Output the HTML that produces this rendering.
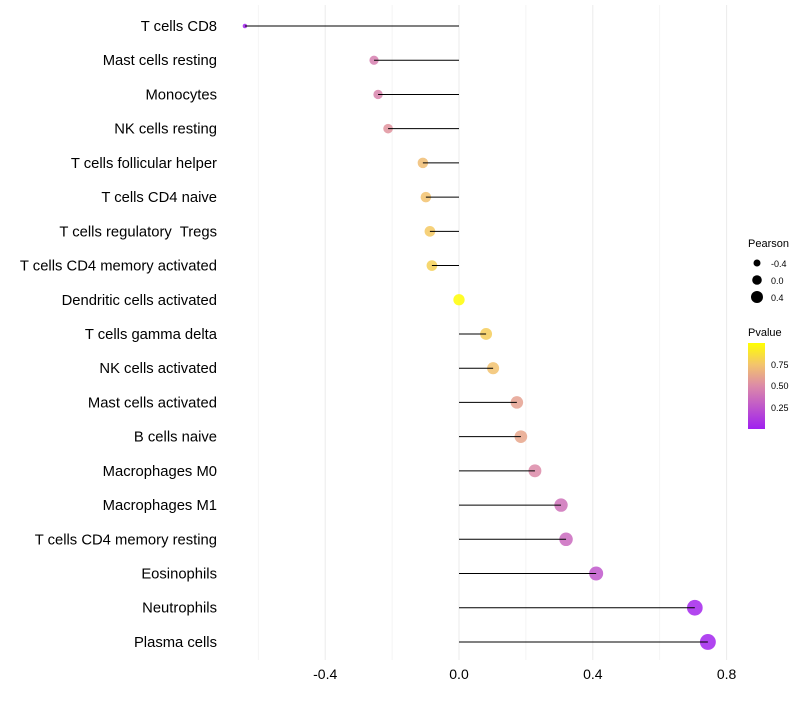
<!DOCTYPE html>
<html><head><meta charset="utf-8"><style>
body{margin:0;background:#fff;font-family:"Liberation Sans",sans-serif}
svg text{font-family:"Liberation Sans",sans-serif;white-space:pre}
</style></head><body>
<svg id="c" width="800" height="700" xmlns="http://www.w3.org/2000/svg">
<defs><linearGradient id="pg" x1="0" y1="1" x2="0" y2="0">
<stop offset="0" stop-color="#a020f0"/><stop offset="0.5" stop-color="#dc8aa8"/><stop offset="0.75" stop-color="#f3c46c"/><stop offset="1" stop-color="#ffff00"/></linearGradient></defs>
<g id="grid"></g><g id="marks"></g><g id="labels"></g>
<g>
<text x="748" y="247" font-size="11">Pearson</text>
<circle cx="757" cy="263" r="3.5" fill="#000"/>
<text x="771" y="267" font-size="9">-0.4</text>
<circle cx="757" cy="280" r="4.8" fill="#000"/>
<text x="771" y="284" font-size="9">0.0</text>
<circle cx="757" cy="297" r="6" fill="#000"/>
<text x="771" y="301" font-size="9">0.4</text>
<text x="748" y="336" font-size="11">Pvalue</text>
<rect x="748" y="343" width="17" height="86" fill="url(#pg)"/>
<text x="771" y="368" font-size="9">0.75</text>
<text x="771" y="389" font-size="9">0.50</text>
<text x="771" y="411" font-size="9">0.25</text>
</g>
</svg>
<script>
const categories=["T cells CD8","Mast cells resting","Monocytes","NK cells resting","T cells follicular helper","T cells CD4 naive","T cells regulatory  Tregs","T cells CD4 memory activated","Dendritic cells activated","T cells gamma delta","NK cells activated","Mast cells activated","B cells naive","Macrophages M0","Macrophages M1","T cells CD4 memory resting","Eosinophils","Neutrophils","Plasma cells"];
const pearson=[-0.64,-0.254,-0.242,-0.212,-0.108,-0.099,-0.087,-0.081,0.0,0.081,0.102,0.173,0.185,0.227,0.305,0.32,0.41,0.705,0.744];
const pvalue=[0.01,0.45,0.47,0.54,0.72,0.74,0.77,0.8,0.99,0.79,0.74,0.6,0.62,0.5,0.38,0.35,0.26,0.03,0.02];
const xTicks=[-0.4,0.0,0.4,0.8];
const xTickLabels=["-0.4","0.0","0.4","0.8"];
const minorTicks=[-0.6,-0.2,0.2,0.6];
const NS="http://www.w3.org/2000/svg";
const xs=v=>459+v*334.5;
const ys=i=>26+i*34.22;
function mk(tag,attrs,parent){const e=document.createElementNS(NS,tag);for(const k in attrs)e.setAttribute(k,attrs[k]);document.getElementById(parent).appendChild(e);return e;}
function hex(h){return [1,3,5].map(i=>parseInt(h.substr(i,2),16));}
const stops=[[0,"#a020f0"],[0.5,"#dc8aa8"],[0.75,"#f3c46c"],[1,"#ffff00"]];
function col(p){for(let i=0;i<stops.length-1;i++){const[a,ca]=stops[i],[b,cb]=stops[i+1];if(p<=b){const t=(p-a)/(b-a),A=hex(ca),B=hex(cb);return "rgb("+A.map((v,j)=>Math.round(v+(B[j]-v)*t)).join(",")+")";}}return "#ffff00";}
const rad=v=>Math.sqrt(Math.max(1.5,32+42*v));
minorTicks.forEach(t=>{const l=mk("line",{x1:xs(t),x2:xs(t),y1:5,y2:660,stroke:"#f2f2f2","stroke-width":0.8},"grid");

});
xTicks.forEach((t,i)=>{const l=mk("line",{x1:xs(t),x2:xs(t),y1:5,y2:660,stroke:"#ebebeb","stroke-width":1},"grid");


const tx=mk("text",{x:xs(t),y:679,"text-anchor":"middle","font-size":14,fill:"#000"},"labels");tx.textContent=xTickLabels[i];

});
categories.forEach((c,i)=>{const y=ys(i),v=pearson[i];
const pt=mk("circle",{cx:xs(v),cy:y,r:rad(v),fill:col(pvalue[i]),"fill-opacity":0.85},"marks");


const ln=mk("line",{x1:xs(0),x2:xs(v),y1:y,y2:y,stroke:"#000","stroke-width":1},"marks");


const t=mk("text",{x:217,y:y+5,"text-anchor":"end","font-size":14.8,fill:"#000"},"labels");t.textContent=c;

});
</script>
</body></html>
